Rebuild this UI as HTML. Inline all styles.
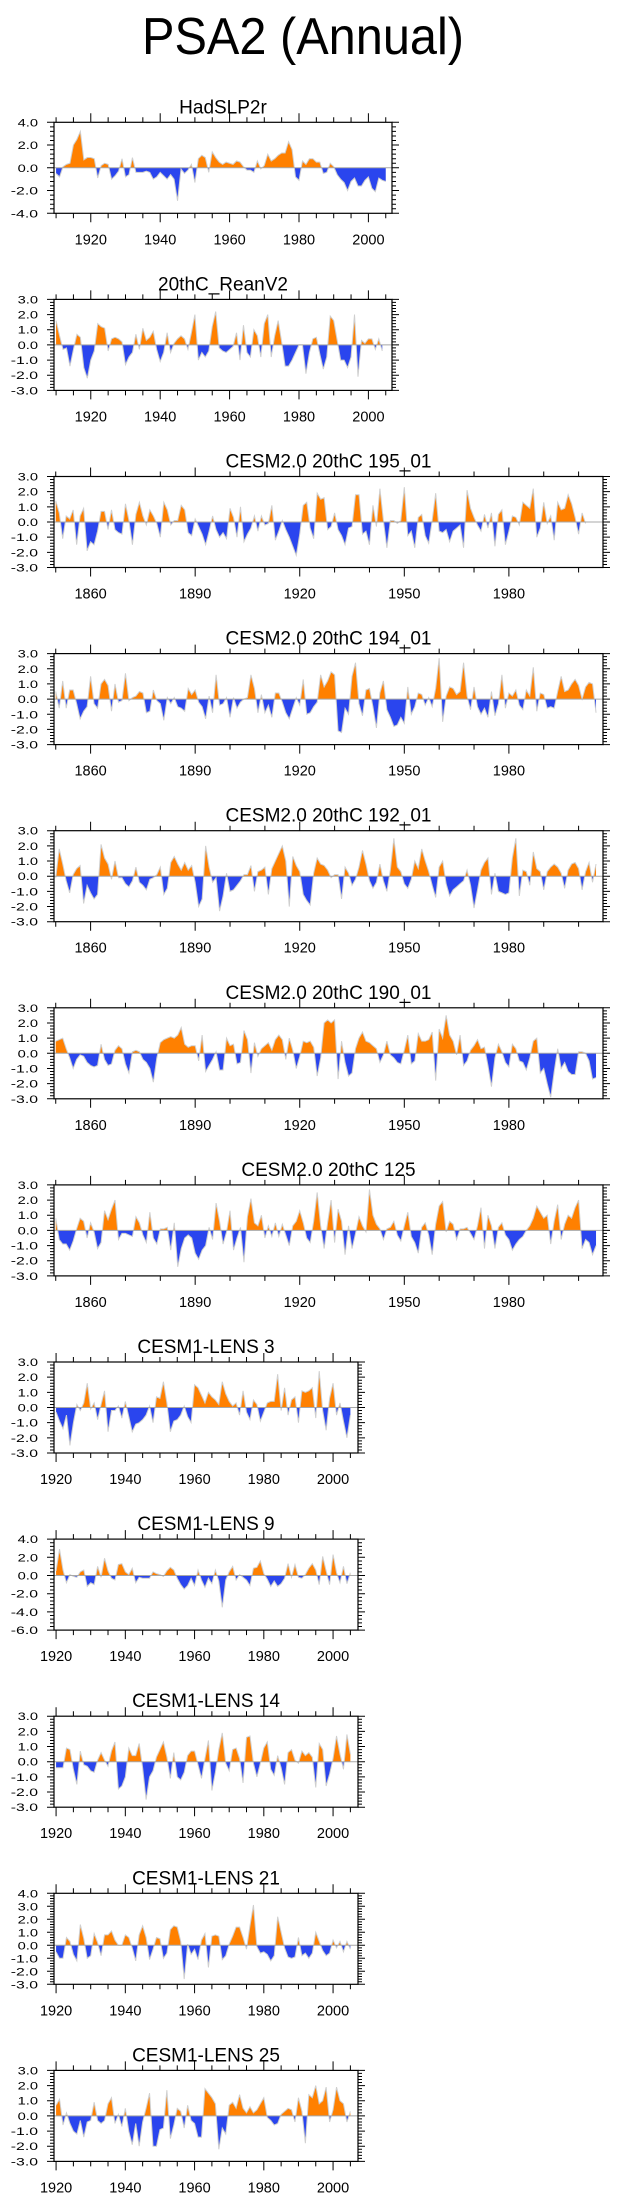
<!DOCTYPE html>
<html><head><meta charset="utf-8">
<style>
html,body{margin:0;padding:0;background:#fff;}
svg{display:block;font-family:"Liberation Sans",Arial,sans-serif;}
</style></head>
<body>
<svg id="chart" width="623" height="2198" viewBox="0 0 623 2198" xmlns="http://www.w3.org/2000/svg">
<text x="303" y="54" font-size="52" text-anchor="middle" textLength="322" lengthAdjust="spacingAndGlyphs">PSA2 (Annual)</text>
</svg>
<script>
// ---- data (annual PSA2 index values, one per year from start year) ----
const titles = ["HadSLP2r","20thC_ReanV2","CESM2.0 20thC 195_01","CESM2.0 20thC 194_01","CESM2.0 20thC 192_01","CESM2.0 20thC 190_01","CESM2.0 20thC 125","CESM1-LENS 3","CESM1-LENS 9","CESM1-LENS 14","CESM1-LENS 21","CESM1-LENS 25"];
const startYears = [1910,1910,1850,1850,1850,1850,1850,1920,1920,1920,1920,1920];
const hadslp = [-0.5,-0.8,0.1,0.3,0.4,2.0,2.5,3.2,0.7,0.9,0.9,0.8,-0.9,0.2,0.4,0.3,-1.0,-0.7,-0.3,0.8,-0.8,-0.6,0.9,-0.4,-0.4,-0.4,-0.3,-0.4,-1.0,-0.8,-0.4,-0.7,-1.0,-0.6,-1.0,-2.9,-0.1,-0.5,-0.2,0.3,-1.3,0.8,1.1,0.9,-0.4,1.4,0.9,0.5,0.3,0.5,0.4,0.3,0.6,0.5,0.1,-0.2,-0.2,-0.4,0.6,-0.1,0.2,1.2,0.6,0.8,1.1,1.3,1.3,2.3,1.6,-0.8,-1.1,0.6,0.3,0.8,0.8,0.5,0.5,-0.5,-0.4,0.4,0.1,-0.6,-1.0,-1.3,-2.0,-1.2,-0.9,-1.6,-1.6,-1.1,-0.8,-1.8,-2.1,-0.9,-1.1,-1.2];
const rean = [1.6,0.6,-0.3,-0.2,-1.4,-0.3,0.7,0.5,-1.5,-2.2,-1.0,-0.4,1.4,1.2,1.1,-0.4,0.4,0.5,0.4,0.2,-1.3,-0.8,-0.5,0.7,-0.3,1.1,0.3,0.5,0.9,-0.3,-1.1,-0.5,0.8,-0.5,0.1,0.4,0.6,0.4,-0.3,0.8,2.0,-1.0,-0.5,-0.8,-0.4,1.2,2.2,-0.2,-0.4,-0.5,-0.3,-0.1,0.8,-1.0,1.3,-0.5,-0.8,1.0,0.6,-0.8,1.4,2.0,-0.8,0.6,1.6,0.2,-1.4,-1.4,-1.0,-0.5,0.0,0.0,-1.9,-0.5,0.4,0.5,-0.6,-1.6,-0.8,1.9,1.6,0.3,-1.0,-1.0,-1.5,-0.8,2.0,-2.1,0.3,0.1,0.4,0.4,-0.3,0.4,-0.4];
const m195 = [1.4,0.6,-1.1,0.4,0.2,0.8,-1.5,0.4,0.9,-1.9,-1.3,-1.5,-0.6,0.7,0.7,-0.5,0.8,-0.5,-0.7,-0.8,1.2,0.1,-1.5,0.5,1.3,0.4,-0.2,0.8,0.4,-0.1,-1.0,1.3,0.8,-0.2,0.1,0.1,1.1,0.8,-0.7,-0.9,0.2,-0.3,-0.8,-1.5,-0.6,0.4,-0.5,-1.0,-0.7,-1.1,0.9,0.3,-1.0,1.0,-1.3,-0.8,-0.4,0.4,-0.6,0.4,-0.2,-0.1,1.1,-1.2,-0.6,0.1,-0.5,-1.0,-1.6,-2.2,-0.8,1.1,1.3,-0.4,-1.1,1.9,1.5,1.6,-0.5,-0.3,0.6,-0.5,-0.9,-1.5,-0.4,-0.3,1.8,1.8,-0.8,-0.6,-1.5,1.1,-0.3,2.2,0.1,-1.7,0.1,0.1,-0.1,0.1,2.3,-0.9,-0.6,-1.7,0.3,0.5,-0.9,-1.4,0.1,1.9,-0.6,-0.7,-0.5,-1.3,-0.6,-0.4,-0.2,-1.7,2.1,0.9,0.3,-0.2,-0.6,0.5,-0.4,0.6,-1.6,0.5,0.8,-1.5,-0.6,0.4,0.3,-0.2,1.3,1.1,0.9,2.2,-1.0,-0.4,1.3,-0.1,0.4,-1.2,1.3,0.8,0.9,1.8,1.2,0.3,-0.8,0.6,-0.1];
const m194 = [0.5,-0.6,1.2,-0.6,0.6,0.6,-0.3,-1.3,-0.8,-0.5,1.5,-0.3,-0.6,1.0,1.3,0.9,-0.8,1.0,-0.2,-0.1,1.7,-0.1,0.1,0.2,0.5,0.4,-0.9,-0.8,0.6,-0.1,-0.3,-1.4,0.1,-0.3,0.1,-0.5,-0.6,-0.8,0.7,0.3,0.6,-0.2,-0.5,-1.3,0.2,-0.9,1.6,-0.4,-0.3,0.1,-1.2,0.1,-0.6,-0.2,0.0,0.1,1.6,0.7,-0.9,0.3,-0.9,-0.4,-1.2,0.4,0.4,-0.2,-0.9,-1.3,-0.6,0.1,-0.4,1.3,-1.0,-0.9,-0.5,-0.2,1.6,0.8,1.2,1.8,1.6,-2.1,-2.2,-0.6,-1.0,1.5,2.4,-0.3,-1.1,0.6,0.7,-0.5,-1.9,0.4,1.2,-0.7,-1.2,-1.8,-1.7,-1.2,-1.6,0.8,-1.0,-0.5,0.4,0.3,-0.4,0.1,-0.5,0.7,2.7,-1.5,0.2,0.8,0.7,0.3,0.5,2.4,0.2,-0.7,0.8,-0.5,-1.0,-0.6,-1.2,0.5,-1.1,-0.3,1.6,-0.6,0.4,0.2,0.6,-0.4,-0.7,0.6,0.2,2.1,-0.8,0.4,0.3,-0.6,-0.5,-0.6,0.5,1.5,0.5,0.6,1.0,1.3,0.9,0.0,0.8,1.1,1.0,-0.9];
const m192 = [-0.1,1.8,0.8,-0.3,-1.1,0.1,0.5,0.7,-1.8,-0.6,-1.1,-1.5,-1.2,2.1,1.2,0.8,-0.2,1.0,-0.1,-0.1,-0.5,-0.7,-0.3,0.6,-0.4,-0.6,-0.9,-0.2,-0.1,0.1,0.6,-1.2,-0.8,0.9,1.3,0.8,0.4,0.9,0.4,0.7,-0.4,-2.0,-1.5,2.0,0.6,-0.4,-0.1,-2.3,-1.3,0.2,-1.0,-0.9,-0.6,-0.3,0.1,0.1,0.7,-1.0,0.3,0.4,0.6,-1.2,0.5,1.0,1.5,2.0,1.0,-2.0,1.3,0.7,0.3,-1.2,-1.6,-1.9,0.2,1.2,0.8,0.7,0.4,-0.1,0.1,0.1,-1.5,0.6,0.2,-0.6,-0.2,0.6,1.7,0.8,-0.3,-0.8,-0.4,0.8,-0.3,-1.0,0.4,2.5,0.6,0.3,-0.5,-0.8,-0.2,1.0,0.5,1.8,1.0,0.3,-0.6,-1.4,0.6,1.0,-0.5,-1.3,-0.9,-0.7,-0.5,-0.3,0.4,-0.6,-2.1,-0.9,0.4,0.9,1.2,-1.2,0.2,-1.0,-1.1,-1.2,-1.1,1.2,2.5,-1.3,0.4,0.3,-0.6,1.6,0.5,0.3,-0.9,0.3,0.6,0.8,0.6,0.2,-0.8,0.4,0.8,0.9,0.5,-0.9,0.3,0.9,-0.4,0.8];
const m190 = [0.8,0.9,1.0,0.3,-0.3,-1.0,-0.4,-0.1,-0.2,-0.6,-0.8,-0.9,-0.8,0.6,-0.4,-0.8,-0.7,0.2,0.5,0.3,-0.7,-1.3,0.1,0.2,0.1,-0.4,-0.6,-1.0,-1.9,-0.3,0.7,0.9,1.0,1.1,1.0,1.2,1.7,0.6,0.4,0.5,0.5,-0.5,1.2,-1.2,-0.8,-0.4,0.1,-1.1,-1.1,1.0,0.5,0.6,-0.7,-0.6,1.5,0.9,-1.3,0.7,-0.2,0.3,0.5,0.7,0.2,0.9,1.2,0.9,-0.4,1.0,0.2,-1.0,-0.2,0.8,0.7,0.8,0.4,-1.5,-0.3,2.0,2.2,2.0,2.2,-1.7,0.8,-0.6,-1.5,-1.3,0.3,1.0,1.4,0.8,0.7,0.5,0.3,-0.6,-0.1,0.8,-0.1,-0.3,-0.6,-0.7,0.2,1.2,-0.7,-0.5,1.3,0.8,0.8,0.9,1.4,-1.8,1.6,1.0,2.5,1.2,0.8,-0.1,1.2,-0.8,-0.5,0.2,0.5,0.9,0.3,0.4,-0.8,-2.2,-0.3,0.6,0.1,-0.6,-0.9,0.6,0.3,-0.5,-0.6,-1.1,-0.3,0.8,1.0,-1.3,-1.0,-2.0,-2.9,-1.2,0.3,-1.0,-0.6,-1.2,-1.4,-1.4,0.1,0.1,0.0,-0.5,-1.7,-1.6];
const m125 = [0.8,-0.6,-0.9,-0.9,-1.3,-0.7,0.1,0.8,0.6,-0.5,0.5,-0.1,-1.2,-0.8,1.3,0.7,1.4,2.0,-0.6,-0.2,-0.2,-0.3,-0.4,0.9,0.5,-0.3,-0.8,1.2,-0.5,-0.9,0.1,0.1,0.2,-1.3,0.5,-2.4,-1.2,-0.5,-0.3,-0.5,-1.5,-1.9,-1.3,-1.0,0.2,-0.6,1.8,0.6,-0.9,-0.1,1.3,-1.3,-0.5,0.2,-2.1,0.9,2.1,0.5,0.3,1.0,-0.5,0.3,-0.4,0.5,-0.4,0.4,-0.3,-1.0,0.3,0.6,1.3,0.5,-0.5,-0.8,0.6,2.5,0.3,-1.2,0.5,2.0,-0.8,1.4,0.6,-1.6,0.3,-1.2,-0.2,0.9,0.3,-0.1,2.7,1.0,0.4,0.1,-0.6,0.1,0.2,0.6,-0.3,-0.7,0.3,1.2,-0.4,-0.8,-1.5,0.2,0.5,-0.3,-1.6,0.4,1.6,1.9,-0.1,0.6,0.4,-0.6,0.1,0.1,0.2,-0.2,-0.6,0.3,1.5,-1.2,1.0,0.3,-1.2,0.2,0.5,-0.3,-0.6,-1.3,-0.9,-0.6,-0.4,0.0,0.3,0.8,1.6,1.2,0.8,1.0,-0.9,0.6,1.7,-0.6,0.4,1.0,0.8,1.5,2.0,-1.2,-0.6,-0.8,-1.6,-1.0];
const lens3 = [-0.3,-0.9,-1.4,-0.5,-2.5,-1.0,0.2,-0.2,0.3,1.6,-0.1,0.3,-0.8,0.2,1.1,-1.6,-0.2,-0.2,0.1,-0.7,0.4,-0.6,-1.6,-1.1,-1.0,-0.8,-0.5,0.1,-1.0,0.7,0.6,1.7,0.3,-1.6,-0.9,-0.8,-0.5,0.1,-0.6,-1.0,1.5,1.3,0.8,0.3,1.0,0.7,0.5,0.2,1.7,0.9,0.4,0.1,0.3,-0.5,1.1,-0.3,-0.8,0.5,0.2,-0.9,-0.3,0.3,0.4,0.4,2.2,-0.2,1.3,-0.5,0.5,0.7,-1.0,1.1,1.0,1.1,1.3,-0.7,2.4,-0.2,-1.5,0.6,1.6,-0.5,0.3,-0.9,-2.0,-0.5];
const lens9 = [0.5,2.9,0.6,-0.8,0.1,-0.1,-0.2,0.4,0.6,-1.2,-0.8,-1.0,1.0,-0.2,1.9,0.5,-0.3,-0.5,1.2,1.3,0.4,0.1,0.8,-0.8,-0.2,-0.3,-0.3,-0.3,0.4,0.2,0.1,-0.1,0.5,0.9,0.6,-0.3,-1.0,-1.5,-1.1,-0.3,-1.1,0.6,-0.5,-1.3,-0.3,-0.9,0.6,-0.6,-3.5,-0.5,0.4,1.0,-0.5,0.1,-0.2,-0.5,-1.1,0.8,0.9,1.6,0.2,-0.4,-1.2,-0.6,-1.2,-0.9,-0.3,1.3,-0.2,1.2,-0.2,-0.3,0.1,0.8,1.3,0.6,-1.0,2.1,0.5,-1.0,2.3,0.3,-0.8,1.0,-0.9,0.3];
const lens14 = [-0.4,-0.4,-0.4,0.9,0.8,-0.5,-1.5,0.7,-0.2,-0.3,-0.6,-0.7,0.1,0.6,0.1,-0.3,0.7,1.3,-1.8,-1.6,-1.0,0.9,0.4,0.4,1.2,-0.4,-2.5,-1.0,-0.6,0.3,0.8,1.3,0.3,-1.1,0.6,-1.0,-1.2,-0.7,0.4,0.7,0.7,-0.2,-1.1,0.2,1.4,-1.9,-0.7,0.8,1.9,-0.1,-0.6,0.8,0.9,0.2,-1.4,1.6,1.7,-0.1,-1.0,-0.1,0.9,1.3,-0.5,-0.9,0.4,-0.4,-1.5,0.6,0.8,0.1,-0.1,0.7,0.4,0.6,0.3,-1.7,1.2,0.8,-1.6,-0.8,0.2,1.7,0.5,-0.5,1.8,0.5];
const lens21 = [-0.5,-1.0,-1.0,0.6,0.3,-0.7,-1.2,1.6,0.5,-1.0,-0.8,0.9,0.2,-0.8,0.8,0.8,1.1,0.4,0.0,0.0,0.8,0.6,-0.2,-1.2,0.8,1.5,0.6,-1.1,-0.3,0.6,0.5,-1.0,-0.6,1.2,1.5,1.4,0.3,-2.6,0.1,-0.7,-0.3,-1.1,0.4,0.9,-1.7,0.7,0.8,0.7,-1.1,-0.8,0.1,0.7,1.4,1.4,0.6,-0.3,1.5,3.1,-0.1,-0.6,-0.5,-0.7,-1.2,-0.8,2.2,1.0,-0.2,-0.9,-1.0,-0.9,0.6,-0.8,-0.6,-1.0,-0.6,1.0,0.3,-0.4,-0.8,-0.6,0.4,-0.2,0.3,-0.5,0.3,-0.3];
const lens25 = [0.7,1.1,-0.6,0.2,-0.5,-1.0,-1.2,-0.3,-1.4,-0.4,-0.3,0.9,-0.3,-0.5,-0.3,0.8,1.2,-0.5,0.1,-0.7,0.5,-1.0,-1.9,-0.5,-2.0,-0.4,0.5,1.5,-2.0,-2.0,-0.9,-0.8,1.7,-1.5,-0.6,0.5,0.3,-0.8,0.7,-0.3,-0.5,-1.4,-1.4,1.8,1.5,1.2,0.8,-2.2,-0.8,-1.2,0.7,0.9,0.5,1.4,0.5,0.2,0.6,0.2,0.4,0.8,1.2,-0.1,-0.3,-0.6,-0.5,0.1,0.3,0.5,0.4,-0.4,1.2,0.3,-1.8,1.4,1.2,2.0,0.8,1.0,1.9,-0.4,0.4,1.9,1.0,0.8,-0.4,0.3];
const yMins = [-4,-3,-3,-3,-3,-3,-3,-3,-6,-3,-3,-3];
const yMaxs = [4,3,3,3,3,3,3,3,4,3,4,3];
const yStepsArr = [2,1,1,1,1,1,1,1,2,1,1,1];
const xMins = [1909.4,1909.4,1849.5,1849.5,1849.5,1849.5,1849.5,1919.4,1919.4,1919.4,1919.4,1919.4];
const xMaxs = [2006.8,2006.8,2007,2007,2007,2007,2007,2007.2,2007.2,2007.2,2007.2,2007.2];
const seriesList = [hadslp,rean,m195,m194,m192,m190,m125,lens3,lens9,lens14,lens21,lens25];

const NS = "http://www.w3.org/2000/svg";
const svg = document.getElementById('chart');
function mk(tag, attrs, parent){
  const e = document.createElementNS(NS, tag);
  for (const k in attrs) e.setAttribute(k, attrs[k]);
  (parent||svg).appendChild(e);
  return e;
}
const rightEdges = [392,392,603,603,603,603,603,358,358,358,358,358];

seriesList.forEach((vals, p) => {
  const L = 54, R = rightEdges[p], T = 122.3 + 177.1 * p, B = T + 91;
  const x0 = xMins[p], x1 = xMaxs[p], y0 = yMins[p], y1 = yMaxs[p];
  const xs = yr => L + (yr - x0) / (x1 - x0) * (R - L);
  const ys = v => B - (v - y0) / (y1 - y0) * (B - T);
  const g = mk('g', {});
  
  

  // title
  const t = mk('text', {x: (L + R) / 2, y: T - 9, 'font-size': 19, 'text-anchor': 'middle'}, g);
  
  
  t.textContent = titles[p];

  // clip paths
  const zy = ys(0);
  const defs = mk('defs', {}, g);
  const cpA = mk('clipPath', {id: 'ca' + p}, defs);
  mk('rect', {x: L, y: T, width: R - L, height: zy - T}, cpA);
  const cpB = mk('clipPath', {id: 'cb' + p}, defs);
  mk('rect', {x: L, y: zy, width: R - L, height: B - zy}, cpB);

  let d = '';
  vals.forEach((v, i) => {
    const px = xs(startYears[p] + i), py = ys(v);
    d += (i ? 'L' : 'M') + px.toFixed(2) + ',' + py.toFixed(2);
  });
  const xe = xs(startYears[p] + vals.length - 1), xb = xs(startYears[p]);
  const area = d + 'L' + xe.toFixed(2) + ',' + zy.toFixed(2) + 'L' + xb.toFixed(2) + ',' + zy.toFixed(2) + 'Z';
  const pa = mk('path', {d: area, fill: '#ff8000', 'clip-path': 'url(#ca' + p + ')'}, g);
  
  
  const pb = mk('path', {d: area, fill: '#2a45ee', 'clip-path': 'url(#cb' + p + ')'}, g);
  
  
  const ln = mk('path', {d: d, fill: 'none', stroke: '#cfcfcf', 'stroke-width': 1}, g);
  
  
  const zl = mk('line', {x1: L, x2: R, y1: zy, y2: zy, stroke: '#a8a8a8', 'stroke-width': 1}, g);
  
  

  // frame
  const fr = mk('rect', {x: L, y: T, width: R - L, height: B - T, fill: 'none', stroke: '#000', 'stroke-width': 1.2}, g);
  
  

  // y ticks
  const st = yStepsArr[p];
  let tk = '';
  for (let v = y0; v <= y1 + 1e-6; v += st / 5) {
    const isMaj = Math.abs(Math.round(v / st) * st - v) < 1e-6;
    const len = isMaj ? 7 : 4;
    const yy = ys(v).toFixed(2);
    tk += 'M' + L + ',' + yy + 'h-' + len + 'M' + R + ',' + yy + 'h' + len;
  }
  for (let v = y0; v <= y1 + 1e-6; v += st) {
    const s = v.toFixed(1);
    const lab = mk('text', {x: 38, y: ys(v) + 4, 'font-size': 11, 'text-anchor': 'end', textLength: s.length * 6.8, lengthAdjust: 'spacingAndGlyphs'}, g);
    
    
    lab.textContent = s;
  }
  // x ticks
  const wide = p >= 2 && p <= 6;
  const majStep = wide ? 30 : 20, minStep = wide ? 10 : 5;
  const majStart = wide ? 1860 : 1920;
  for (let yr = Math.ceil(x0 / minStep) * minStep; yr <= x1; yr += minStep) {
    const isMaj = (yr - majStart) % majStep === 0 && yr >= majStart;
    const len = isMaj ? 9 : 5;
    const xx = xs(yr).toFixed(2);
    tk += 'M' + xx + ',' + B + 'v' + len + 'M' + xx + ',' + T + 'v-' + len;
    if (isMaj) {
      const xl = mk('text', {x: xx, y: B + 31, 'font-size': 14.5, 'text-anchor': 'middle'}, g);
      
      
      xl.textContent = yr;
    }
  }
  const tp = mk('path', {d: tk, stroke: '#000', 'stroke-width': 1, fill: 'none'}, g);
  
  
});
</script>
</body></html>
